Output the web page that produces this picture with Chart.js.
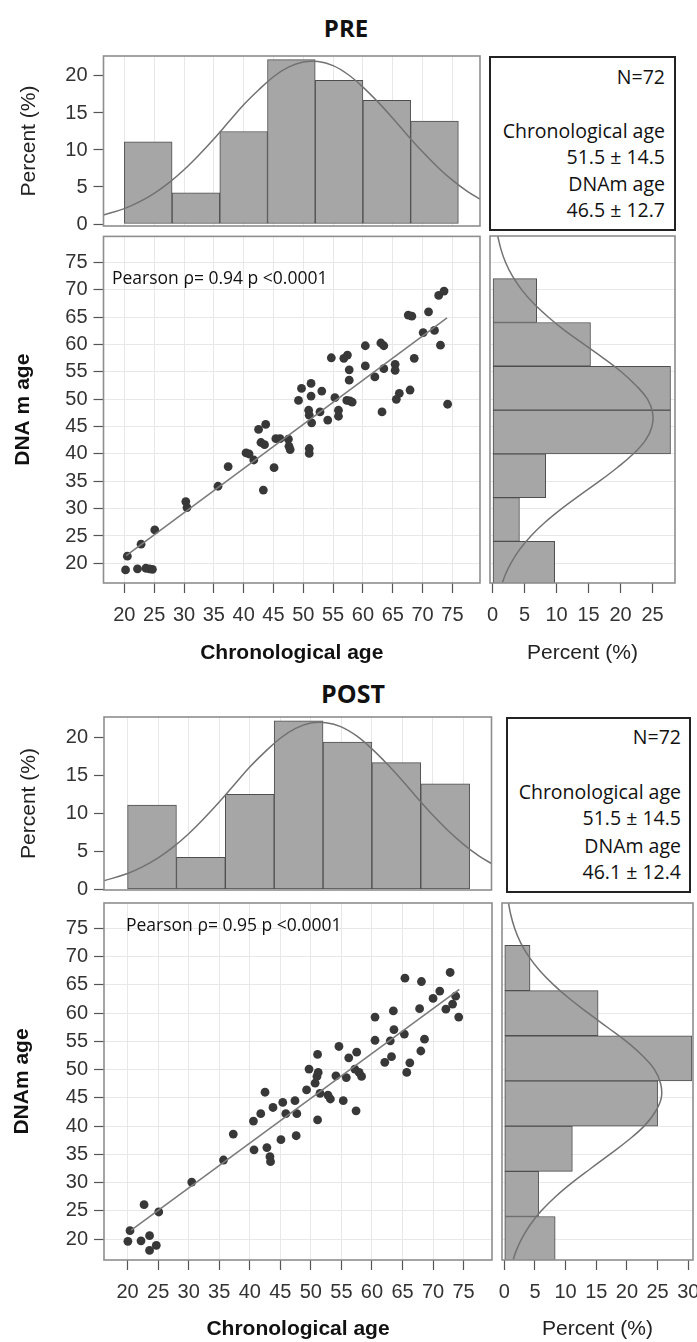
<!DOCTYPE html>
<html><head><meta charset="utf-8">
<script src="https://cdn.jsdelivr.net/npm/chart.js@4/dist/chart.umd.min.js"></script>
<style>
html,body{margin:0;padding:0;background:#fff;}
#page{position:relative;width:697px;height:1342px;overflow:hidden;background:#fff;}
canvas{position:absolute;}
.t{position:absolute;white-space:nowrap;font-family:"Open Sans",sans-serif;color:#111;line-height:1;}
.box{position:absolute;border:2px solid #222;box-sizing:border-box;}
</style></head><body><div id="page"></div>
<script>
// ---------- data ----------
const ageTicks = [20,25,30,35,40,45,50,55,60,65,70,75];
const topPctTicks = [0,5,10,15,20];
const prePctTicks = [0,5,10,15,20,25];
const postPctTicks = [0,5,10,15,20,25,30];

const chronoBinCenters = [24,32,40,48,56,64,72];          // bins 20-28 ... 68-76
const chronoPercent = [11.1,4.2,12.5,22.2,19.4,16.7,13.9];
const dnamBinCenters = [20,28,36,44,52,60,68];             // bins 16-24 ... 64-72
const preDnamPercent = [9.7,4.2,8.3,27.8,27.8,15.3,6.9];
const postDnamPercent = [8.3,5.6,11.1,25.0,30.6,15.3,4.2];

const chronoCurveX = [16,20,22.5,25,27.5,30,32.5,35,37.5,40,42.5,45,47.5,50,52.5,55,57.5,60,62.5,65,67.5,70,72.5,75,77.5,80];
const chronoCurvePct = [1.10,2.08,2.98,4.14,5.59,7.33,9.33,11.5,13.8,16.1,18.1,19.9,21.2,21.9,21.95,21.4,20.2,18.5,16.5,14.3,11.97,9.75,7.71,5.92,4.41,3.19];
const dnamCurveY = [16,18,20,22.5,25,27.5,30,32.5,35,37.5,40,42.5,45,47.5,50,52.5,55,57.5,60,62.5,65,67.5,70,72.5,75,77.5,80];
const preDnamCurvePct = [1.40,2.02,2.85,4.21,5.99,8.20,10.8,13.7,16.7,19.5,22.0,23.9,24.9,25.0,24.2,22.4,20.1,17.3,14.3,11.3,8.69,6.39,4.53,3.09,2.02,1.28,0.77];
const postDnamCurvePct = [1.35,1.97,2.81,4.20,6.04,8.34,11.06,14.1,17.2,20.2,22.8,24.6,25.6,25.5,24.5,22.5,19.9,16.8,13.7,10.7,8.05,5.80,4.01,2.66,1.70,1.04,0.61];

const preChrono = [20.2,20.5,22.2,22.8,23.6,24.2,24.7,25.1,30.3,30.5,35.7,37.4,40.4,40.9,41.7,42.5,43.7,42.9,43.5,43.3,45.1,45.4,46.1,47.5,47.6,47.8,49.2,49.7,51.3,51.3,50.9,51.0,51.4,51.0,51.0,53.1,52.8,54.1,54.7,55.3,55.9,55.9,56.8,57.4,57.7,57.7,57.3,57.8,58.2,60.4,60.4,62.0,63.0,63.5,63.2,63.5,65.4,65.4,65.6,66.1,67.6,68.2,67.9,68.6,70.1,71.0,72.0,72.7,73.6,73.0,74.2];
const preDnam = [18.8,21.3,19.0,23.5,19.1,19.0,18.9,26.1,31.3,30.2,34.1,37.7,40.2,40.0,38.9,44.5,45.4,42.1,41.7,33.4,37.5,42.8,42.8,42.7,41.4,40.8,49.8,52.0,52.9,50.6,48.0,47.1,45.7,41.0,40.1,51.5,47.7,46.2,57.6,50.3,48.0,46.9,57.5,58.1,55.4,53.5,49.8,49.7,49.5,59.8,56.1,54.1,60.3,59.8,47.7,55.6,56.4,55.3,50.0,51.1,65.4,65.2,51.7,57.5,62.2,66.0,62.6,69.0,69.8,59.9,49.1];
const postChrono = [20.05,20.4,22.2,22.7,23.6,23.6,24.7,25.1,30.5,35.7,37.3,40.6,41.8,40.7,42.5,42.8,43.3,43.4,43.8,45.1,45.4,45.9,47.4,47.7,47.6,49.3,49.7,51.1,50.7,51.0,51.2,51.5,51.1,52.8,53.2,54.1,54.6,55.3,55.8,56.2,57.2,57.5,57.9,58.3,57.4,60.5,60.5,62.1,63.2,63.0,63.5,63.6,65.4,65.3,65.7,66.2,67.8,68.1,68.0,68.6,70.0,71.1,72.1,72.8,73.2,73.7,74.2];
const postDnam = [19.6,21.5,19.7,26.1,20.6,18.0,18.9,24.8,30.1,34.0,38.6,40.9,42.2,35.8,46.0,36.2,34.6,33.7,43.3,37.6,44.2,42.2,44.5,42.2,38.3,46.4,50.1,52.7,47.6,48.8,49.5,45.8,41.1,45.5,44.8,48.9,54.1,44.5,48.6,52.1,50.1,53.1,49.5,48.8,42.7,59.3,55.2,51.3,52.3,55.1,60.4,57.1,66.2,56.3,49.5,51.2,60.8,65.6,53.3,55.4,62.6,63.9,60.7,67.2,61.6,63.0,59.3];

const preFitX = [20.3,74.1], preFitY = [21.4,64.9];
const postFitX = [20.6,74.3], postFitY = [21.6,64.2];

const preStats = ["N=72","Chronological age","51.5 \u00b1 14.5","DNAm age","46.5 \u00b1 12.7"];
const postStats = ["N=72","Chronological age","51.5 \u00b1 14.5","DNAm age","46.1 \u00b1 12.4"];

// ---------- styling ----------
const SANS = "'Liberation Sans', Arial, sans-serif";
const tickFont = {family: SANS, size: 20};
const titleB = {family: SANS, size: 21, weight: 'bold'};
const titleR = {family: SANS, size: 21};
const GRID = '#e8e8e8', TICK = '#555', TXT = '#333';
const BAR = '#a6a6a6', BAR_EDGE = '#4e4e4e', CURVE = '#727272', DOT = '#383838', FIT = '#7c7c7c';

const page = document.getElementById('page');

const boxPlugin = {
  id: 'box',
  afterDatasetsDraw(chart) {
    const {ctx, chartArea: a} = chart;
    ctx.save();
    ctx.strokeStyle = '#8e8e8e'; ctx.lineWidth = 1.6;
    ctx.strokeRect(a.left, a.top, a.right - a.left, a.bottom - a.top);
    ctx.restore();
  }
};

const tickSetter = arr => s => { s.ticks = arr.map(v => ({value: v})); };
function lin(o) {
  return Object.assign({type: 'linear', offset: false, bounds: 'data', beginAtZero: false, border: {display: false}}, o);
}

function makeChart(cv, area, type, scales, datasets, yLabels) {
  const c = document.createElement('canvas');
  const w = cv.R - cv.L, h = cv.B - cv.T;
  c.width = w; c.height = h;
  c.style.left = cv.L + 'px'; c.style.top = cv.T + 'px';
  c.style.width = w + 'px'; c.style.height = h + 'px';
  page.appendChild(c);
  const leftW = area.L - cv.L, bottomH = cv.B - area.B;
  scales.x.afterFit = s => { s.height = bottomH; s.paddingLeft = 0; s.paddingRight = 0; };
  scales.y.afterFit = s => { s.width = yLabels ? leftW : 0; s.paddingTop = 0; s.paddingBottom = 0; };
  new Chart(c, {
    type,
    data: {datasets},
    options: {
      responsive: false, animation: false, devicePixelRatio: 1, events: [],
      layout: {padding: {left: yLabels ? 0 : leftW, top: area.T - cv.T, right: cv.R - area.R, bottom: 0}},
      plugins: {legend: {display: false}, tooltip: {enabled: false}},
      scales
    },
    plugins: [boxPlugin]
  });
}

function topHist(cv, area, xr, yr) {
  const binW = chronoBinCenters[1] - chronoBinCenters[0];
  const thick = (area.R - area.L) / (xr[1] - xr[0]) * binW;
  const scales = {
    x: lin({position: 'bottom', min: xr[0], max: xr[1], ticks: {display: false},
      grid: {color: GRID, drawTicks: false, offset: false}, afterBuildTicks: tickSetter(ageTicks)}),
    y: lin({position: 'left', min: yr[0], max: yr[1],
      ticks: {font: tickFont, color: TXT, padding: 6, autoSkip: false},
      grid: {color: 'rgba(0,0,0,0)', tickColor: TICK, tickLength: 10, tickWidth: 1.2},
      title: {display: true, text: 'Percent (%)', font: titleR, color: '#222', padding: {top: 16.4, bottom: 0}},
      afterBuildTicks: tickSetter(topPctTicks)})
  };
  const datasets = [
    {type: 'bar', xAxisID: 'x', yAxisID: 'y', order: 2,
     data: chronoBinCenters.map((c, i) => ({x: c, y: chronoPercent[i]})),
     backgroundColor: BAR, borderColor: BAR_EDGE, borderWidth: 1, borderSkipped: false,
     barThickness: thick, grouped: false},
    {type: 'scatter', xAxisID: 'x', yAxisID: 'y', order: 1, showLine: true,
     data: chronoCurveX.map((x, i) => ({x, y: chronoCurvePct[i]})),
     borderColor: CURVE, borderWidth: 1.5, pointRadius: 0, tension: 0.4, fill: false}
  ];
  makeChart(cv, area, 'bar', scales, datasets, true);
}

function scatterPanel(cv, area, xr, yr, xs, ys, fx, fy, yTitle, yTitlePad, xTitlePad) {
  const scales = {
    x: lin({position: 'bottom', min: xr[0], max: xr[1],
      ticks: {font: tickFont, color: TXT, padding: 10, autoSkip: false, maxRotation: 0},
      grid: {color: GRID, tickColor: TICK, tickLength: 10, tickWidth: 1.2},
      title: {display: true, text: 'Chronological age', font: titleB, color: '#111', padding: {top: 0, bottom: xTitlePad}},
      afterBuildTicks: tickSetter(ageTicks)}),
    y: lin({position: 'left', min: yr[0], max: yr[1],
      ticks: {font: tickFont, color: TXT, padding: 6, autoSkip: false},
      grid: {color: GRID, tickColor: TICK, tickLength: 10, tickWidth: 1.2},
      title: {display: true, text: yTitle, font: titleB, color: '#111', padding: {top: yTitlePad, bottom: 0}},
      afterBuildTicks: tickSetter(ageTicks)})
  };
  const datasets = [
    {type: 'scatter', order: 2, data: xs.map((x, i) => ({x, y: ys[i]})),
     backgroundColor: DOT, borderWidth: 0, pointRadius: 4.4},
    {type: 'scatter', order: 1, showLine: true, data: fx.map((x, i) => ({x, y: fy[i]})),
     borderColor: FIT, borderWidth: 1.6, pointRadius: 0, fill: false}
  ];
  makeChart(cv, area, 'scatter', scales, datasets, true);
}

function rightHist(cv, area, xr, yr, pct, curvePct, pctTicks, xTitlePad) {
  const binW = dnamBinCenters[1] - dnamBinCenters[0];
  const thick = (area.B - area.T) / (yr[1] - yr[0]) * binW;
  const scales = {
    x: lin({position: 'bottom', min: xr[0], max: xr[1],
      ticks: {font: tickFont, color: TXT, padding: 10, autoSkip: false, maxRotation: 0},
      grid: {color: 'rgba(0,0,0,0)', tickColor: TICK, tickLength: 10, tickWidth: 1.2, offset: false},
      title: {display: true, text: 'Percent (%)', font: titleR, color: '#222', padding: {top: 0, bottom: xTitlePad}},
      afterBuildTicks: tickSetter(pctTicks)}),
    y: lin({position: 'left', min: yr[0], max: yr[1], ticks: {display: false},
      grid: {color: GRID, drawTicks: false, offset: false}, afterBuildTicks: tickSetter(ageTicks)})
  };
  const datasets = [
    {type: 'bar', indexAxis: 'y', xAxisID: 'x', yAxisID: 'y', order: 2,
     data: dnamBinCenters.map((c, i) => ({x: pct[i], y: c})),
     backgroundColor: BAR, borderColor: BAR_EDGE, borderWidth: 1, borderSkipped: false,
     barThickness: thick, grouped: false},
    {type: 'scatter', xAxisID: 'x', yAxisID: 'y', order: 1, showLine: true,
     data: dnamCurveY.map((y, i) => ({x: curvePct[i], y})),
     borderColor: CURVE, borderWidth: 1.5, pointRadius: 0, tension: 0.4, fill: false}
  ];
  makeChart(cv, area, 'bar', scales, datasets, false);
}

function text(str, x, y, size, align, bold) {
  const d = document.createElement('div');
  d.className = 't'; d.textContent = str;
  d.style.fontSize = size + 'px';
  d.style.fontWeight = bold ? '700' : '400';
  d.style.top = y + 'px';
  let tx = '0';
  if (align === 'right') { d.style.right = (697 - x) + 'px'; }
  else { d.style.left = x + 'px'; if (align === 'center') tx = '-50%'; }
  d.style.transform = 'translate(' + tx + ',-50%)';
  page.appendChild(d);
}
function statBox(r, lines, centers, rightX) {
  const b = document.createElement('div');
  b.className = 'box';
  b.style.left = r.L + 'px'; b.style.top = r.T + 'px';
  b.style.width = (r.R - r.L) + 'px'; b.style.height = (r.B - r.T) + 'px';
  page.appendChild(b);
  lines.forEach((s, i) => text(s, rightX, centers[i], 19.5, 'right', false));
}

// ---------- PRE ----------
text('PRE', 346, 28, 24, 'center', true);
topHist({L:0,T:40,R:485,B:236}, {L:103.5,T:56,R:480,B:226}, [16.5,79.63], [-0.27,22.7]);
scatterPanel({L:0,T:232,R:485,B:672}, {L:103.5,T:236,R:480,B:583}, [16.5,79.63], [16.4,79.8],
  preChrono, preDnam, preFitX, preFitY, 'DNA m age', 10.4, 6.4);
rightHist({L:485,T:232,R:697,B:672}, {L:490,T:236,R:675,B:583}, [-0.4,28.5], [16.4,79.8],
  preDnamPercent, preDnamCurvePct, prePctTicks, 6.4);
statBox({L:489,T:56,R:676,B:231}, preStats, [77,131,157,184,210], 665);
text('Pearson \u03c1= 0.94 p <0.0001', 112, 278, 17.5, 'left', false);

// ---------- POST ----------
text('POST', 353, 693, 25, 'center', true);
topHist({L:0,T:700,R:497,B:900}, {L:104,T:717,R:491.5,B:890}, [16.14,79.58], [-0.09,22.7]);
scatterPanel({L:0,T:898,R:497,B:1342}, {L:104,T:903,R:492,B:1260}, [16.14,79.65], [16.3,79.5],
  postChrono, postDnam, postFitX, postFitY, 'DNAm age', 9.9, 0);
rightHist({L:497,T:898,R:697,B:1342}, {L:502,T:903,R:693,B:1260}, [-0.37,30.77], [16.3,79.5],
  postDnamPercent, postDnamCurvePct, postPctTicks, 0);
statBox({L:506,T:717,R:691,B:893}, postStats, [737,792,818,846,872], 681);
text('Pearson \u03c1= 0.95 p <0.0001', 126, 925, 17.5, 'left', false);
</script>
</body></html>
